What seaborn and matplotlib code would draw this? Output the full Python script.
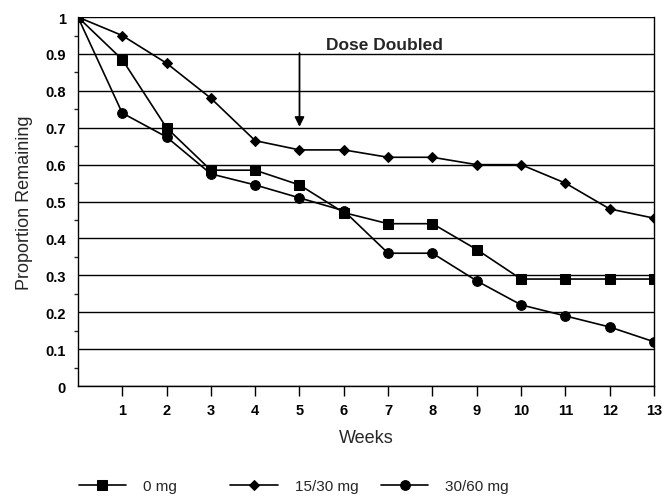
import matplotlib
matplotlib.use("Agg")
import matplotlib.pyplot as plt
import numpy as np
import pandas as pd
import seaborn as sns

weeks = list(range(0, 14))
dose_0 = [1.0, 0.885, 0.70, 0.585, 0.585, 0.545, 0.47, 0.44, 0.44, 0.37, 0.29, 0.29, 0.29, 0.29]
dose_15_30 = [1.0, 0.95, 0.875, 0.78, 0.665, 0.64, 0.64, 0.62, 0.62, 0.60, 0.60, 0.55, 0.48, 0.455]
dose_30_60 = [1.0, 0.74, 0.675, 0.575, 0.545, 0.51, 0.475, 0.36, 0.36, 0.285, 0.22, 0.19, 0.16, 0.12]
labels = ["0 mg", "15/30 mg", "30/60 mg"]

df = pd.DataFrame({
    "Weeks": weeks * 3,
    "Proportion": dose_0 + dose_15_30 + dose_30_60,
    "Dose": [labels[0]] * 14 + [labels[1]] * 14 + [labels[2]] * 14,
})

sns.set_style("white")
plt.rcParams["font.family"] = ["Liberation Sans", "DejaVu Sans"]

fig = plt.figure(figsize=(6.66, 5.02), dpi=100)
ax = fig.add_axes([0.117, 0.229, 0.865, 0.735])

sns.lineplot(
    data=df, x="Weeks", y="Proportion", style="Dose", hue="Dose",
    palette=["black"] * 3, markers={"0 mg": "s", "15/30 mg": "D", "30/60 mg": "o"},
    dashes=False, markersize=7, linewidth=1.2, markeredgecolor="black", ax=ax,
)
for line in ax.lines:
    if line.get_marker() == "D":
        line.set_markersize(5.5)

ax.set_xlim(0, 13)
ax.set_ylim(0, 1)
ax.set_xticks(range(1, 14))
ax.set_yticks(np.arange(0, 1.01, 0.1))
ax.set_yticklabels(["0", "0.1", "0.2", "0.3", "0.4", "0.5", "0.6", "0.7", "0.8", "0.9", "1"])
ax.set_yticks(np.arange(0.05, 1.0, 0.1), minor=True)
ax.tick_params(axis="y", which="major", direction="out", length=5, width=1,
               labelsize=10.5, colors="black")
ax.tick_params(axis="x", which="major", direction="out", length=7, width=1, pad=5,
               labelsize=10.5, colors="black", bottom=True)
ax.tick_params(axis="y", which="minor", direction="out", length=3, width=1, left=True)
for lab in ax.get_xticklabels() + ax.get_yticklabels():
    lab.set_fontweight("bold")

ax.yaxis.grid(True, color="black", linewidth=1)
ax.xaxis.grid(False)
for side in ["left", "right", "bottom"]:
    ax.spines[side].set_color("black")
    ax.spines[side].set_linewidth(1)
ax.spines["top"].set_visible(False)

ax.set_xlabel("Weeks", fontsize=13, labelpad=9)
ax.set_ylabel("Proportion Remaining", fontsize=13, labelpad=9)

ax.annotate("", xy=(5, 0.695), xytext=(5, 0.91),
            arrowprops=dict(arrowstyle="-|>", color="black", lw=1.3, mutation_scale=14))
ax.text(5.6, 0.925, "Dose Doubled", fontsize=12.5, va="center", ha="left", fontweight="bold")

# legend: one entry per block, spaced like the original
handles, names = ax.get_legend_handles_labels()
ax.get_legend().remove()
for h in handles:
    if h.get_marker() == "D":
        h.set_markersize(5)
    else:
        h.set_markersize(7)
legend_x = [0.118, 0.346, 0.572]
for h, name, lx in zip(handles, names, legend_x):
    fig.legend([h], [name], loc="center left", bbox_to_anchor=(lx, 0.03),
               frameon=False, handlelength=3.1, handletextpad=1.1,
               borderpad=0, borderaxespad=0, prop={"size": 11})

fig.savefig("out.png", dpi=100)
